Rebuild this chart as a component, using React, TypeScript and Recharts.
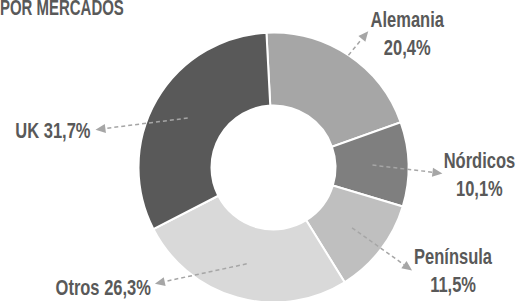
import { PieChart, Pie, Cell } from 'recharts'

const markets = ['Alemania', 'Nórdicos', 'Península', 'Otros', 'UK']
const shares = [20.4, 10.1, 11.5, 26.3, 31.7]
const sliceColors = ['#a6a6a6', '#7f7f7f', '#bfbfbf', '#d9d9d9', '#595959']

// posición de cada etiqueta (ángulo / radio de la punta de flecha)
const labelLayout = [
  { startR: 135, tipAngle: 55.2, tipR: 166, anchor: 'middle', dx: 39, dy: -4, split: true },
  { startR: 99, tipAngle: -2, tipR: 169, anchor: 'middle', dx: 37, dy: -5, split: true },
  { startR: 99, tipAngle: -36.6, tipR: 172.6, anchor: 'middle', dx: 41, dy: -6, split: true },
  { startR: 100, tipAngle: -135.6, tipR: 166, anchor: 'end', dx: -4, dy: 11, split: false },
  { startR: 99, tipAngle: 168, tipR: 182, anchor: 'end', dx: -5, dy: 8, split: false },
]

const data = markets.map((name, i) => ({ name, value: shares[i] }))

const RAD = Math.PI / 180
const TEXT_COLOR = '#595959'
const ARROW_COLOR = '#a6a6a6'
const FONT = "'Liberation Sans Narrow', 'Arial Narrow', sans-serif"
const SQUEEZE = 0.75

const polar = (cx: number, cy: number, r: number, a: number) => ({
  x: cx + r * Math.cos(-a * RAD),
  y: cy + r * Math.sin(-a * RAD),
})

const fmt = (v: number) => `${v.toFixed(1).replace('.', ',')}%`

function Label(props: any) {
  const { cx, cy, midAngle, index, name, value } = props
  const l = labelLayout[index]
  const s = polar(cx, cy, l.startR, midAngle)
  const t = polar(cx, cy, l.tipR, l.tipAngle)
  const len = Math.hypot(t.x - s.x, t.y - s.y)
  const ux = (t.x - s.x) / len
  const uy = (t.y - s.y) / len
  const bx = t.x - 10 * ux
  const by = t.y - 10 * uy
  const pts = `${t.x},${t.y} ${bx - 4.5 * uy},${by + 4.5 * ux} ${bx + 4.5 * uy},${by - 4.5 * ux}`
  const tx = t.x + l.dx
  const ty = t.y + l.dy
  const textProps = {
    textAnchor: l.anchor as any,
    fill: TEXT_COLOR,
    fontFamily: FONT,
    fontWeight: 700,
    fontSize: 22,
  }
  return (
    <g>
      <line x1={s.x} y1={s.y} x2={bx} y2={by} stroke={ARROW_COLOR} strokeWidth={1.5} strokeDasharray="4 3" />
      <polygon points={pts} fill={ARROW_COLOR} />
      <g transform={`translate(${tx},${ty}) scale(${SQUEEZE},1)`}>
        {l.split ? (
          <>
            <text x={0} y={0} {...textProps}>{name}</text>
            <text x={0} y={28} {...textProps}>{fmt(value)}</text>
          </>
        ) : (
          <text x={0} y={0} {...textProps}>{`${name} ${fmt(value)}`}</text>
        )}
      </g>
    </g>
  )
}

export default function App() {
  return (
    <div style={{ position: 'relative', width: 523, height: 301, overflow: 'hidden', background: '#fff' }}>
      <style>{'body{margin:0}'}</style>
      <div
        style={{
          position: 'absolute',
          left: 0,
          top: -5,
          fontFamily: FONT,
          fontWeight: 700,
          fontSize: 22,
          color: TEXT_COLOR,
          transform: 'scaleX(0.68)',
          transformOrigin: 'left top',
          whiteSpace: 'nowrap',
        }}
      >
        POR MERCADOS
      </div>
      <PieChart width={523} height={301} margin={{ top: 0, right: 0, bottom: 0, left: 0 }}>
        <Pie
          data={data}
          dataKey="value"
          nameKey="name"
          cx={273.5}
          cy={167.5}
          innerRadius={62}
          outerRadius={135}
          startAngle={93}
          endAngle={-267}
          stroke="#fff"
          strokeWidth={2}
          labelLine={false}
          label={Label}
          isAnimationActive={false}
        >
          {data.map((d, i) => (
            <Cell key={d.name} fill={sliceColors[i]} />
          ))}
        </Pie>
      </PieChart>
    </div>
  )
}
